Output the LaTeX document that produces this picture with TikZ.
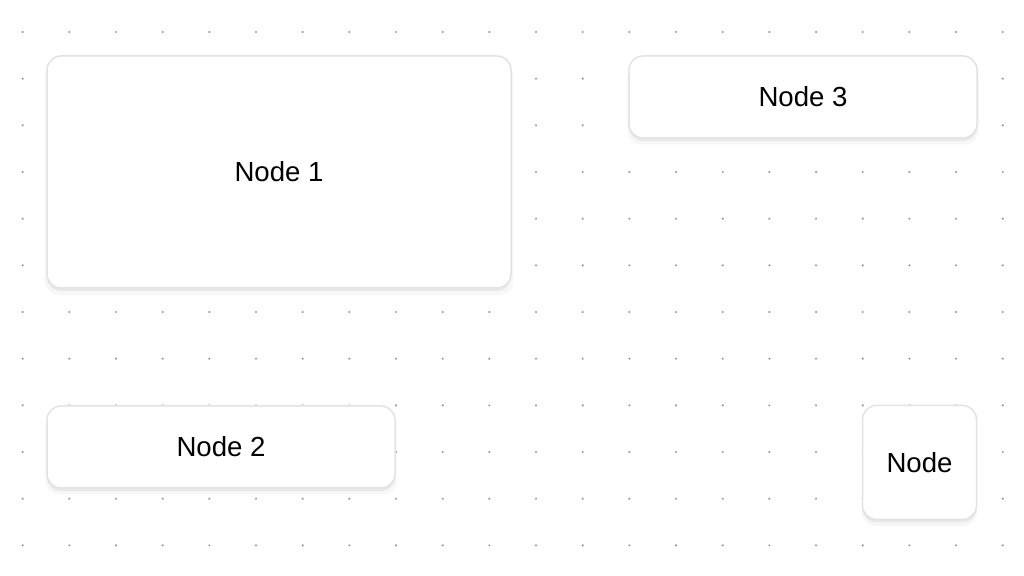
\documentclass[tikz,border=0pt]{standalone}
\usepackage{fontspec}
\setmainfont{Liberation Sans}
\usepackage{tikz}
\usetikzlibrary{shadows}

\definecolor{dotgray}{HTML}{9E9E9E}
\definecolor{cardline}{HTML}{E3E3E3}

\begin{document}
\begin{tikzpicture}[x=0.5pt,y=-0.5pt,
    card/.style={draw=cardline, line width=0.75pt, fill=white, rounded corners=7pt,
        inner sep=0pt, font=\fontsize{13.8}{16}\selectfont,
        drop shadow={shadow xshift=0pt, shadow yshift=-3pt, shadow scale=1.01, opacity=0.03, fill=black},
        drop shadow={shadow xshift=0pt, shadow yshift=-1.5pt, opacity=0.06, fill=black}}]
    % Canvas
    \useasboundingbox[fill=white] (0,0) rectangle (1024,576);

    % Dot grid
    \foreach \i in {0,...,21}
        \foreach \j in {0,...,11}
            \fill[dotgray] (22.67+46.67*\i, 32+46.67*\j) circle (0.6pt);

    % Nodes
    \node[card, minimum width=232pt, minimum height=116pt] (node1) at (279,172) {Node 1};
    \node[card, minimum width=174pt, minimum height=41pt] (node3) at (803,97) {Node 3};
    \node[card, minimum width=174pt, minimum height=41pt] (node2) at (221,447) {Node 2};
    \node[card, minimum width=57pt, minimum height=57pt] (node4) at (919.5,462.5) {Node};
\end{tikzpicture}
\end{document}
